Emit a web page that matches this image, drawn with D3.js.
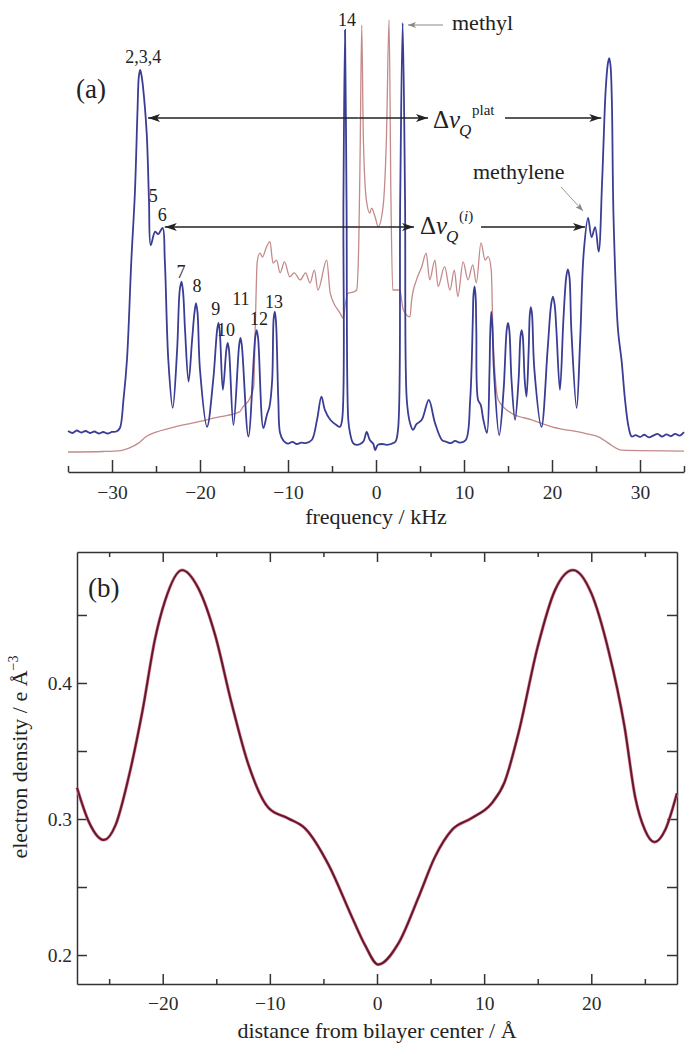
<!DOCTYPE html>
<html>
<head>
<meta charset="utf-8">
<script src="https://cdn.jsdelivr.net/npm/d3@7"></script>
<style>
  html, body { margin: 0; padding: 0; background: #fff; }
  svg { display: block; }
  svg text { font-family: "Liberation Serif", "Times New Roman", "DejaVu Serif", "Noto Serif", Times, serif; }
  .axis text { font-size: 19.5px; fill: #2a2a2a; }
  .axis path, .axis line { stroke: #333; stroke-width: 1.5; }
</style>
</head>
<body>
<svg id="chart" width="695" height="1050"></svg>
<script>
// ---------- DATA ----------
// Panel (a): 2H NMR spectrum, blue (frequency kHz, intensity a.u.)
const blueSpectrum = [
  [-35,5.45],[-34.5,5.0],[-34,5.57],[-33.5,5.11],[-33,5.45],[-32.5,5.0],[-32,5.34],[-31.5,4.89],
  [-31,5.23],[-30.5,4.89],[-30,5.23],[-29.5,5.34],[-29.1,6.14],[-28.7,12.5],[-28.3,21.6],[-27.8,44.3],
  [-27.4,59.5],[-27.1,78.4],[-26.95,86.0],[-26.8,87.5],[-26.65,86.3],[-26.5,84.1],[-26.06,73.2],[-25.8,58.0],[-25.6,47.7],
  [-25.1,50.75],[-24.75,50.2],[-24.25,51.6],[-24.0,44.3],[-23.6,21.6],[-23.1,10.7],[-22.6,23.9],
  [-22.3,37.5],[-22.1,39.4],[-21.92,37.0],[-21.7,28.4],[-21.3,16.7],[-20.9,26.1],[-20.62,32.5],[-20.45,34.5],[-20.28,32.3],[-20.0,19.3],[-19.2,6.4],
  [-18.5,17.0],[-18.05,28.5],[-17.9,30.0],[-17.75,28.0],[-17.4,14.8],[-17.0,24.0],[-16.85,25.5],[-16.7,23.8],[-16.2,6.8],
  [-15.55,25.0],[-15.4,26.6],[-15.25,25.0],[-14.5,4.2],
  [-13.72,26.8],[-13.56,28.4],[-13.4,26.6],[-12.8,6.14],[-12.4,9.1],[-12.1,11.0],[-11.8,17.0],[-11.63,31.0],[-11.5,32.6],[-11.37,30.5],[-11.1,12.5],
  [-10.9,5.0],[-10.5,3.2],[-10,2.6],[-9.5,3.0],[-9,2.5],[-8.5,2.8],[-8,2.7],[-7.3,3.4],[-6.7,8.0],
  [-6.2,13.25],[-5.8,10.2],[-5.2,8.0],[-4.5,6.8],[-4.1,6.4],[-3.85,8.0],[-3.7,58.0],[-3.52,96.6],
  [-3.35,58.0],[-3.15,8.0],[-2.95,5.0],[-2.6,2.7],[-2.2,2.3],[-1.8,2.5],[-1.4,3.2],[-1.06,5.23],
  [-0.7,3.4],[-0.3,2.5],[-0.1,1.1],[0.2,2.3],[0.7,2.5],[1.2,2.3],[1.7,2.5],[2.2,3.0],[2.5,5.7],
  [2.75,58.0],[3.03,98.2],[3.3,58.0],[3.5,12.5],[3.86,7.3],[4.2,5.7],[4.6,7.0],[5.2,8.0],[6.0,12.5],
  [6.7,7.3],[7.5,3.4],[8,3.0],[8.5,2.7],[9,3.2],[9.5,2.8],[10.2,3.4],[10.7,12.5],[11.0,30.7],
  [11.08,36.5],[11.2,38.3],[11.32,36.0],[11.4,28.4],[11.6,12.5],[11.9,11.4],[12.2,8.0],[12.6,5.0],[12.9,19.3],[12.97,27.0],[13.1,32.6],[13.23,29.0],
  [13.4,19.3],[14.0,4.5],[14.5,14.8],[14.85,28.4],[15.0,30.0],[15.15,28.4],[15.4,17.0],[15.8,8.0],[16.2,17.0],[16.42,27.0],[16.55,28.4],
  [16.68,27.0],[16.9,17.0],[17.1,13.25],[17.35,23.9],[17.48,32.0],[17.6,33.6],[17.73,32.0],[18.0,19.3],[18.8,6.4],[19.5,23.9],[19.9,34.2],[20.1,36.0],
  [20.3,34.2],[20.5,28.4],[20.9,14.8],[21.3,30.9],[21.62,40.5],[21.8,42.2],[21.98,40.5],[22.2,28.4],[22.8,10.7],[23.2,26.1],[23.6,45.9],
  [24.1,53.9],[24.5,49.5],[24.9,51.8],[25.3,46.2],[25.7,62.5],[26.1,83.0],[26.35,89.0],[26.5,90.2],[26.65,88.5],[26.8,80.7],
  [27.0,53.4],[27.5,28.4],[27.9,21.6],[28.3,12.5],[28.7,6.4],[29.05,4.2],[29.5,4.5],[30,4.1],
  [30.5,4.6],[31,4.0],[31.5,4.4],[32,4.8],[32.5,4.2],[33,4.7],[33.5,4.3],[34,4.8],[34.5,4.4],[35,5.2]
];
// Panel (a): red spectrum
const redSpectrum = [
  [-35,0.68],[-31,0.8],[-29,1.0],[-28,1.6],[-27,2.7],[-26.1,4.2],[-25,5.2],[-23.4,6.1],[-20.8,7.3],
  [-17.7,8.7],[-15.5,9.8],[-15.1,11.0],[-14.3,13.0],[-13.9,15.5],[-13.7,30.7],[-13.5,43.9],
  [-13.2,45.9],[-12.9,45.0],[-12.5,47.0],[-12.05,48.5],[-11.7,43.6],[-11.3,44.3],[-10.9,41.4],
  [-10.4,43.9],[-9.8,40.5],[-9.3,41.4],[-8.6,39.8],[-8.0,41.4],[-7.5,39.1],[-7.0,42.0],[-6.6,37.5],
  [-5.6,44.3],[-5.2,36.8],[-4.1,32.3],[-3.7,31.1],[-3.5,34.1],[-3.15,36.8],[-2.6,37.0],[-2.2,37.5],
  [-1.95,48.9],[-1.8,69.3],[-1.62,97.7],[-1.45,73.2],[-1.1,58.0],[-0.7,55.0],[-0.5,56.1],
  [-0.1,54.1],[0.25,51.9],[0.8,56.4],[1.2,73.2],[1.48,98.9],[1.7,58.0],[1.9,37.5],[2.7,37.5],
  [3.1,33.0],[3.86,31.4],[4.05,35.2],[4.6,39.8],[5.2,42.8],[5.7,45.9],[6.1,39.8],[6.7,44.3],
  [7.05,38.3],[7.8,42.8],[8.4,37.5],[8.9,42.0],[9.3,36.0],[9.9,43.9],[10.45,39.8],[11.0,43.2],
  [11.4,39.1],[11.93,48.2],[12.4,44.3],[12.75,45.1],[13.1,42.0],[13.3,26.9],[13.9,12.5],
  [15.4,9.5],[17.7,8.0],[20,6.4],[23.75,4.9],[25.5,3.9],[26.4,2.7],[27.9,1.1],[35,0.9]
];
// Panel (b): electron density profile (distance Å, e/Å^3)
const densityProfile = [
  [-28.0,0.323],[-26.9,0.298],[-25.5,0.2846],[-24.4,0.2956],[-23.2,0.330],[-21.9,0.379],
  [-20.7,0.433],[-19.8,0.460],[-18.2,0.483],[-16.7,0.470],[-15.1,0.435],[-13.6,0.386],
  [-12.0,0.340],[-10.1,0.308],[-8.3,0.3005],[-6.7,0.293],[-4.5,0.266],[-2.4,0.229],
  [-1.1,0.207],[0.1,0.193],[2.0,0.2086],[3.9,0.243],[5.4,0.272],[7.0,0.292],[8.8,0.3005],
  [10.7,0.3115],[11.9,0.327],[13.2,0.363],[15.0,0.4267],[16.6,0.468],[18.3,0.483],[20.0,0.466],
  [21.6,0.424],[23.1,0.368],[24.1,0.316],[25.0,0.292],[25.9,0.283],[26.9,0.292],[28.0,0.319]
];
// Ticks
const freqMajorTicks = [-30,-20,-10,0,10,20,30];
const freqMinorTicks = [-35,-25,-15,-5,5,15,25,35];
const distMajorTicks = [-20,-10,0,10,20];
const distMinorTicks = [-25,-15,-5,5,15,25];
const densMajorTicks = [0.2,0.3,0.4];
const densMinorTicks = [0.25,0.35,0.45];
// Peak labels (label, frequency kHz, intensity-level of label baseline)
const peakLabels = [
  ["2,3,4",-26.45,89.1],["14",-3.3,97.5],["5",-25.3,57.5],["6",-24.3,53.2],["7",-22.15,40.2],
  ["8",-20.35,37.0],["9",-18.2,31.8],["10",-17.05,27.0],["11",-15.35,34.1],["12",-13.3,29.5],["13",-11.6,33.4]
];

// ---------- CHART ----------
const FONT = '"Liberation Serif", "Times New Roman", "DejaVu Serif", "Noto Serif", Times, serif';
const svg = d3.select("#chart");
const defs = svg.append("defs");
defs.append("marker").attr("id","ah").attr("viewBox","0 0 12 8").attr("refX",12).attr("refY",4)
  .attr("markerWidth",12).attr("markerHeight",8).attr("markerUnits","userSpaceOnUse").attr("orient","auto")
  .append("path").attr("d","M0,0 L12,4 L0,8 L3,4 Z").attr("fill","#222");
defs.append("marker").attr("id","ahg").attr("viewBox","0 0 8 6").attr("refX",8).attr("refY",3)
  .attr("markerWidth",8).attr("markerHeight",6).attr("markerUnits","userSpaceOnUse").attr("orient","auto")
  .append("path").attr("d","M0,0 L8,3 L0,6 L2,3 Z").attr("fill","#888");

// Panel (a)
const xA = d3.scaleLinear().domain([-35,35]).range([68,684]);
const yA = d3.scaleLinear().domain([0,100]).range([455,15]);
const lineA = d3.line().x(d=>xA(d[0])).y(d=>yA(d[1])).curve(d3.curveMonotoneX);
const lineBlue = d3.line().x(d=>xA(d[0])).y(d=>yA(d[1])).curve(d3.curveCatmullRom.alpha(0.5));

svg.append("path").datum(redSpectrum).attr("d",lineA).attr("fill","none")
  .attr("stroke","#c48a8a").attr("stroke-width",1.3);
svg.append("path").datum(blueSpectrum).attr("d",lineBlue).attr("fill","none")
  .attr("stroke","#3a3d94").attr("stroke-width",1.8);

svg.append("g").attr("class","axis").attr("transform","translate(0,472)")
  .call(d3.axisBottom(xA).tickValues(freqMajorTicks).tickSize(-12).tickSizeOuter(0).tickPadding(13));
svg.append("g").attr("class","axis").attr("transform","translate(0,472)")
  .call(d3.axisBottom(xA).tickValues(freqMinorTicks).tickSize(-6).tickSizeOuter(0).tickFormat(""))
  .select(".domain").remove();

svg.append("text").attr("x",376).attr("y",524).attr("text-anchor","middle")
  .attr("font-size",22).attr("fill","#222").text("frequency / kHz");

svg.append("text").attr("x",76).attr("y",98).attr("font-size",27).attr("fill","#222").text("(a)");

svg.selectAll(".plab").data(peakLabels).enter().append("text").attr("class","plab")
  .attr("x",d=>xA(d[1])).attr("y",d=>yA(d[2])).attr("text-anchor","middle")
  .attr("font-size",18).attr("fill","#222").text(d=>d[0]);

// Δν arrows
function arrow(x1,x2,y){
  svg.append("line").attr("x1",x1).attr("x2",x2).attr("y1",y).attr("y2",y)
    .attr("stroke","#222").attr("stroke-width",1.4).attr("marker-end","url(#ah)");
}
arrow(xA(-2),xA(-25.9),118); arrow(xA(-2),428,118);
arrow(505,xA(25.6),118);
arrow(xA(-2),xA(-24.0),227); arrow(xA(-2),414,227);
arrow(481,xA(23.75),227);

function deltaNu(x,y,sup){
  const t = svg.append("text").attr("font-size",25).attr("fill","#222");
  t.append("tspan").attr("x",x).attr("y",y).text("Δ");
  t.append("tspan").attr("font-style","italic").text("ν");
  t.append("tspan").attr("x",x+26).attr("y",y+8).attr("font-size",17).attr("font-style","italic").text("Q");
  const s = t.append("tspan").attr("x",x+39).attr("y",y-13).attr("font-size",15);
  if (sup === "plat") s.text("plat");
  else {
    s.text("(");
    t.append("tspan").attr("font-size",15).attr("font-style","italic").text("i");
    t.append("tspan").attr("font-size",15).text(")");
  }
}
deltaNu(433,128,"plat");
deltaNu(420,234,"i");

// methyl / methylene
svg.append("text").attr("x",452).attr("y",30).attr("font-size",22).attr("fill","#222").text("methyl");
svg.append("line").attr("x1",443).attr("x2",408).attr("y1",25).attr("y2",25)
  .attr("stroke","#888").attr("stroke-width",1).attr("marker-end","url(#ahg)");
svg.append("text").attr("x",473).attr("y",179).attr("font-size",22).attr("fill","#222").text("methylene");
svg.append("line").attr("x1",561).attr("x2",583).attr("y1",187).attr("y2",211)
  .attr("stroke","#999").attr("stroke-width",1).attr("marker-end","url(#ahg)");

// Panel (b)
const xB = d3.scaleLinear().domain([-28,28]).range([77,677]);
const yB = d3.scaleLinear().domain([0.1787,0.4963]).range([984,552]);
const lineB = d3.line().x(d=>xB(d[0])).y(d=>yB(d[1])).curve(d3.curveMonotoneX);

const gB = svg.append("g");
function axisB(gen, tf, major, minor, fmt){
  gB.append("g").attr("class","axis").attr("transform",tf)
    .call(gen.tickValues(major).tickSize(-10).tickSizeOuter(0).tickPadding(fmt ? 12 : 0).tickFormat(fmt || ""));
  gB.append("g").attr("class","axis").attr("transform",tf)
    .call(gen.tickValues(minor).tickSize(-5).tickSizeOuter(0).tickFormat("")).select(".domain").remove();
}
axisB(d3.axisBottom(xB), "translate(0,984)", distMajorTicks, distMinorTicks, d3.format("d"));
axisB(d3.axisTop(xB), "translate(0,552)", distMajorTicks, distMinorTicks, null);
gB.append("g").attr("class","axis").attr("transform","translate(77,0)")
  .call(d3.axisLeft(yB).tickValues(densMajorTicks).tickSize(-10).tickSizeOuter(0).tickPadding(5).tickFormat(d3.format(".1f")));
gB.append("g").attr("class","axis").attr("transform","translate(77,0)")
  .call(d3.axisLeft(yB).tickValues(densMinorTicks).tickSize(-10).tickSizeOuter(0).tickFormat("")).select(".domain").remove();
gB.append("g").attr("class","axis").attr("transform","translate(677,0)")
  .call(d3.axisRight(yB).tickValues(densMajorTicks.concat(densMinorTicks)).tickSize(-10).tickSizeOuter(0).tickFormat(""));

svg.append("path").datum(densityProfile).attr("d",lineB).attr("fill","none")
  .attr("stroke","#e07a90").attr("stroke-width",3.2);
svg.append("path").datum(densityProfile).attr("d",lineB).attr("fill","none")
  .attr("stroke","#5c1a2c").attr("stroke-width",1.9);

svg.append("text").attr("x",88).attr("y",597).attr("font-size",27).attr("fill","#222").text("(b)");
svg.append("text").attr("x",377).attr("y",1038).attr("text-anchor","middle")
  .attr("font-size",22).attr("fill","#222").text("distance from bilayer center / Å");
const yl = svg.append("text").attr("transform","translate(27,757) rotate(-90)").attr("text-anchor","middle")
  .attr("font-size",22).attr("fill","#222");
yl.append("tspan").text("electron density / e Å");
yl.append("tspan").attr("dy",-9).attr("font-size",14).text("−3");

svg.selectAll("text").attr("font-family", FONT);
</script>
</body>
</html>
